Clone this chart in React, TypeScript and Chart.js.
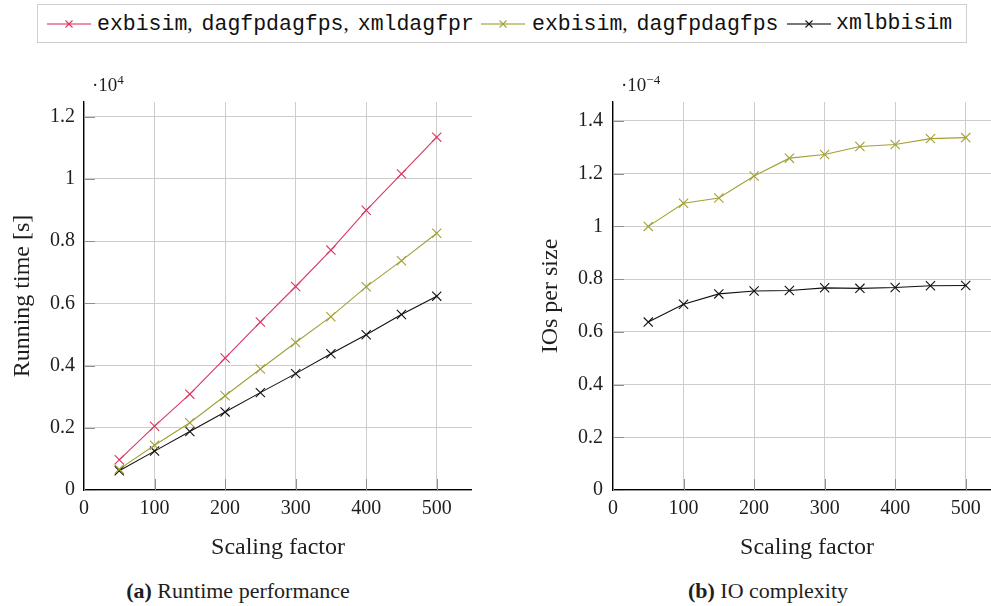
import React, { useEffect, useRef } from "react";
import { Chart, registerables } from "chart.js";

Chart.register(...registerables);

// ---------- data ----------
const scalingFactors = [50, 100, 150, 200, 250, 300, 350, 400, 450, 500];
const xTickValues = [0, 100, 200, 300, 400, 500];

// Running time [s], in units of 10^4
const runtimeAll = [0.097, 0.205, 0.308, 0.424, 0.54, 0.654, 0.771, 0.899, 1.016, 1.134];
const runtimeTwo = [0.067, 0.144, 0.216, 0.303, 0.389, 0.474, 0.557, 0.653, 0.737, 0.825];
const runtimeXml = [0.062, 0.125, 0.188, 0.251, 0.313, 0.374, 0.438, 0.499, 0.564, 0.623];
const runtimeTickValues = [0, 0.2, 0.4, 0.6, 0.8, 1, 1.2];

// IOs per size, in units of 10^-4
const ioTwo = [1.0, 1.088, 1.108, 1.191, 1.259, 1.273, 1.303, 1.311, 1.333, 1.337];
const ioXml = [0.637, 0.705, 0.744, 0.755, 0.757, 0.767, 0.765, 0.768, 0.775, 0.776];
const ioTickValues = [0, 0.2, 0.4, 0.6, 0.8, 1, 1.2, 1.4];

const seriesNames = ["exbisim, dagfpdagfps, xmldagfpr", "exbisim, dagfpdagfps", "xmlbbisim"];

// ---------- style ----------
const RED = "#dc3762";
const OLIVE = "#a2a036";
const BLACK = "#111111";
const SERIF = '"Liberation Serif", "Times New Roman", serif';
const MONO = '"Liberation Mono", "Courier New", monospace';
const TEXT = "#1e1e1e";

const innerTicks = {
  id: "innerTicks",
  beforeDatasetsDraw(chart: any) {
    const { ctx, chartArea, scales } = chart;
    ctx.save();
    ctx.strokeStyle = "#8f8f8f";
    ctx.lineWidth = 1;
    ctx.beginPath();
    scales.x.ticks.forEach((t: any) => {
      const px = Math.round(scales.x.getPixelForValue(t.value)) + 0.5;
      ctx.moveTo(px, chartArea.bottom);
      ctx.lineTo(px, chartArea.bottom - 11);
    });
    scales.y.ticks.forEach((t: any) => {
      const py = Math.round(scales.y.getPixelForValue(t.value)) + 0.5;
      ctx.moveTo(chartArea.left, py);
      ctx.lineTo(chartArea.left + 11, py);
    });
    ctx.stroke();
    ctx.restore();
  },
};

function makeDataset(label: string, values: number[], color: string) {
  return {
    label,
    data: scalingFactors.map((x, i) => ({ x, y: values[i] })),
    borderColor: color,
    backgroundColor: color,
    borderWidth: 1.1,
    pointStyle: "crossRot",
    pointRadius: 6.5,
    pointBorderWidth: 1.1,
    pointBorderColor: color,
    tension: 0,
    fill: false,
  };
}

type PlotProps = {
  left: number;
  top: number;
  width: number;
  height: number;
  datasets: any[];
  yMax: number;
  yTicks: number[];
  yTitle: string;
  yTitlePad: number;
  yLabelPad: number;
};

function Plot(p: PlotProps) {
  const ref = useRef<HTMLCanvasElement | null>(null);
  useEffect(() => {
    let chart: Chart | null = null;
    let cancelled = false;
    const build = () => {
      if (cancelled || !ref.current) return;
      chart = new Chart(ref.current, {
        type: "line",
        data: { datasets: p.datasets },
        plugins: [innerTicks],
        options: {
          animation: false,
          responsive: false,
          maintainAspectRatio: false,
          layout: { autoPadding: false, padding: { top: 12, left: 0, right: 0, bottom: 0 } },
          plugins: { legend: { display: false }, tooltip: { enabled: false } },
          scales: {
            x: {
              type: "linear",
              min: 0,
              max: 550,
              afterBuildTicks: (s: any) => {
                s.ticks = xTickValues.map((v) => ({ value: v }));
              },
              afterFit: (s: any) => {
                s.height = 72;
                s.paddingLeft = 0;
                s.paddingRight = 0;
              },
              grid: { color: "#cdcdcd", lineWidth: 1, drawTicks: false },
              border: { color: "#000", width: 1.3 },
              ticks: {
                padding: 7,
                color: TEXT,
                maxRotation: 0,
                font: { family: SERIF, size: 20 },
                callback: (v: any) => String(v),
              },
              title: {
                display: true,
                text: "Scaling factor",
                color: TEXT,
                font: { family: SERIF, size: 24 },
                padding: { top: 0, bottom: 0 },
              },
            },
            y: {
              type: "linear",
              min: 0,
              max: p.yMax,
              afterBuildTicks: (s: any) => {
                s.ticks = p.yTicks.map((v) => ({ value: v }));
              },
              afterFit: (s: any) => {
                s.width = 84;
                s.paddingTop = 0;
                s.paddingBottom = 0;
              },
              grid: { color: "#cdcdcd", lineWidth: 1, drawTicks: false },
              border: { color: "#000", width: 1.3 },
              ticks: {
                padding: p.yLabelPad,
                color: TEXT,
                font: { family: SERIF, size: 20 },
                callback: (v: any) => String(v),
              },
              title: {
                display: true,
                text: p.yTitle,
                color: TEXT,
                font: { family: SERIF, size: 24 },
                padding: { top: p.yTitlePad, bottom: 0 },
              },
            },
          },
        } as any,
      });
    };
    const fontsApi: any = (document as any).fonts;
    if (fontsApi && fontsApi.load) {
      Promise.all([
        fontsApi.load('20px "Liberation Serif"'),
        fontsApi.load('24px "Liberation Serif"'),
      ])
        .catch(() => null)
        .then(build);
    } else {
      build();
    }
    return () => {
      cancelled = true;
      if (chart) chart.destroy();
    };
  }, []);
  return (
    <canvas
      ref={ref}
      width={p.width}
      height={p.height}
      style={{ position: "absolute", left: p.left, top: p.top, width: p.width, height: p.height }}
    />
  );
}

function LegendMark({ color }: { color: string }) {
  return (
    <svg width={44} height={20} style={{ display: "block" }}>
      <line x1={0} y1={10} x2={44} y2={10} stroke={color} strokeWidth={1.6} opacity={0.75} />
      <line x1={18.5} y1={6.5} x2={25.5} y2={13.5} stroke={color} strokeWidth={1.1} />
      <line x1={18.5} y1={13.5} x2={25.5} y2={6.5} stroke={color} strokeWidth={1.1} />
    </svg>
  );
}

function LegendText({ name }: { name: string }) {
  const parts = name.split(", ");
  return (
    <>
      {parts.map((part, i) => (
        <React.Fragment key={i}>
          {i > 0 && (
            <span style={{ fontFamily: SERIF, fontSize: 21, marginRight: 9 }}>,</span>
          )}
          <span>{part}</span>
        </React.Fragment>
      ))}
    </>
  );
}

const legendItems = [
  { name: seriesNames[0], color: RED, mark: 47, text: 97 },
  { name: seriesNames[1], color: OLIVE, mark: 481, text: 532 },
  { name: seriesNames[2], color: BLACK, mark: 787, text: 836 },
];

export default function App() {
  return (
    <div
      style={{
        position: "fixed",
        left: 0,
        top: 0,
        width: 991,
        height: 606,
        overflow: "hidden",
        background: "#fff",
        fontFamily: SERIF,
        color: TEXT,
      }}
    >
      {/* legend */}
      <div
        style={{
          position: "absolute",
          left: 37,
          top: 4,
          width: 930,
          height: 39,
          boxSizing: "border-box",
          border: "1px solid #cfcfcf",
        }}
      />
      {legendItems.map((it) => (
        <React.Fragment key={it.name}>
          <div style={{ position: "absolute", left: it.mark, top: 14 }}>
            <LegendMark color={it.color} />
          </div>
          <div
            style={{
              position: "absolute",
              left: it.text,
              top: 10,
              height: 26,
              lineHeight: "26px",
              fontFamily: MONO,
              fontSize: 21.5,
              whiteSpace: "pre",
              color: "#111",
            }}
          >
            <LegendText name={it.name} />
          </div>
        </React.Fragment>
      ))}

      {/* left plot */}
      <Plot
        left={0}
        top={90}
        width={472}
        height={472}
        datasets={[
          makeDataset(seriesNames[0], runtimeAll, RED),
          makeDataset(seriesNames[1], runtimeTwo, OLIVE),
          makeDataset(seriesNames[2], runtimeXml, BLACK),
        ]}
        yMax={1.247}
        yTicks={runtimeTickValues}
        yTitle="Running time [s]"
        yTitlePad={8}
        yLabelPad={9}
      />
      <div style={{ position: "absolute", left: 92, top: 74, fontSize: 19, lineHeight: "22px", whiteSpace: "pre" }}>
        ·10<span style={{ fontSize: 13, position: "relative", top: -7 }}>4</span>
      </div>
      <div
        style={{
          position: "absolute",
          left: 0,
          top: 578,
          width: 476,
          textAlign: "center",
          fontSize: 22,
          lineHeight: "26px",
        }}
      >
        <b>(a)</b> Runtime performance
      </div>

      {/* right plot */}
      <Plot
        left={529}
        top={90}
        width={472}
        height={472}
        datasets={[makeDataset(seriesNames[1], ioTwo, OLIVE), makeDataset(seriesNames[2], ioXml, BLACK)]}
        yMax={1.472}
        yTicks={ioTickValues}
        yTitle="IOs per size"
        yTitlePad={7}
        yLabelPad={10}
      />
      <div style={{ position: "absolute", left: 621, top: 74, fontSize: 19, lineHeight: "22px", whiteSpace: "pre" }}>
        ·10<span style={{ fontSize: 13, position: "relative", top: -7 }}>−4</span>
      </div>
      <div
        style={{
          position: "absolute",
          left: 530,
          top: 578,
          width: 476,
          textAlign: "center",
          fontSize: 22,
          lineHeight: "26px",
        }}
      >
        <b>(b)</b> IO complexity
      </div>
    </div>
  );
}
